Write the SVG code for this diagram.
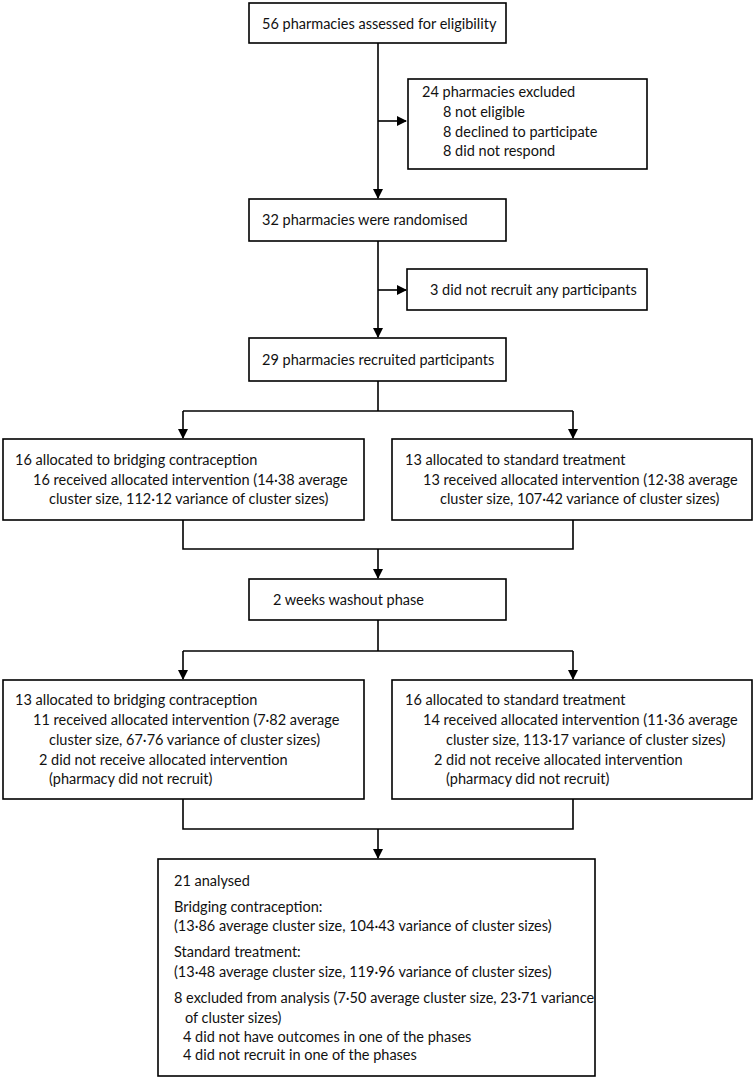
<svg xmlns="http://www.w3.org/2000/svg" width="755" height="1080" viewBox="0 0 755 1080">
<defs>
<marker id="ah" markerWidth="10" markerHeight="10" refX="9" refY="5" orient="auto" markerUnits="userSpaceOnUse">
<path d="M0,0 L10,5 L0,10 Z" fill="#000"/>
</marker>
<style>
.box{fill:#fff;stroke:#000;stroke-width:1.6}
.t{font-family:Lato,"Liberation Sans",sans-serif;font-size:14.5px;fill:#111}
.ln{fill:none;stroke:#000;stroke-width:1.6}
</style>
</defs>
<rect width="755" height="1080" fill="#fff"/>
<g id="connectors">
<path class="ln" d="M378,43 V198" marker-end="url(#ah)"/>
<path class="ln" d="M378,121 H406" marker-end="url(#ah)"/>
<path class="ln" d="M378,241 V337" marker-end="url(#ah)"/>
<path class="ln" d="M378,290 H406" marker-end="url(#ah)"/>
<path class="ln" d="M378,381 V411"/>
<path class="ln" d="M183,411 H573"/>
<path class="ln" d="M183,411 V438" marker-end="url(#ah)"/>
<path class="ln" d="M573,411 V438" marker-end="url(#ah)"/>
<path class="ln" d="M183,520 V549 H573 V520"/>
<path class="ln" d="M378,549 V578" marker-end="url(#ah)"/>
<path class="ln" d="M378,620 V651"/>
<path class="ln" d="M183,651 H573"/>
<path class="ln" d="M183,651 V679" marker-end="url(#ah)"/>
<path class="ln" d="M573,651 V679" marker-end="url(#ah)"/>
<path class="ln" d="M183,799 V829 H573 V799"/>
<path class="ln" d="M378,829 V858" marker-end="url(#ah)"/>
</g>
<g id="n1">
<rect class="box" x="249" y="3" width="257" height="40"/>
<text class="t" x="262" y="29">56 pharmacies assessed for eligibility</text>
</g>
<g id="n2">
<rect class="box" x="408" y="79" width="239" height="90"/>
<text class="t" x="422" y="97">24 pharmacies excluded</text>
<text class="t" x="443" y="117">8 not eligible</text>
<text class="t" x="443" y="137">8 declined to participate</text>
<text class="t" x="443" y="156">8 did not respond</text>
</g>
<g id="n3">
<rect class="box" x="249" y="199" width="257" height="42"/>
<text class="t" x="262" y="225">32 pharmacies were randomised</text>
</g>
<g id="n4">
<rect class="box" x="407" y="269" width="240" height="41"/>
<text class="t" x="430" y="295">3 did not recruit any participants</text>
</g>
<g id="n5">
<rect class="box" x="249" y="338" width="257" height="43"/>
<text class="t" x="262" y="365">29 pharmacies recruited participants</text>
</g>
<g id="n6">
<rect class="box" x="3" y="439" width="361" height="81"/>
<text class="t" x="15" y="465">16 allocated to bridging contraception</text>
<text class="t" x="33" y="485">16 received allocated intervention (14·38 average</text>
<text class="t" x="49" y="504">cluster size, 112·12 variance of cluster sizes)</text>
</g>
<g id="n7">
<rect class="box" x="392" y="439" width="360" height="81"/>
<text class="t" x="405" y="465">13 allocated to standard treatment</text>
<text class="t" x="423" y="485">13 received allocated intervention (12·38 average</text>
<text class="t" x="440" y="504">cluster size, 107·42 variance of  cluster sizes)</text>
</g>
<g id="n8">
<rect class="box" x="249" y="579" width="257" height="41"/>
<text class="t" x="273" y="605">2 weeks washout phase</text>
</g>
<g id="n9">
<rect class="box" x="3" y="680" width="361" height="119"/>
<text class="t" x="15" y="705">13 allocated to bridging contraception</text>
<text class="t" x="33" y="725">11 received allocated intervention (7·82 average</text>
<text class="t" x="49" y="745">cluster size, 67·76 variance of cluster sizes)</text>
<text class="t" x="39" y="765">2 did not receive allocated intervention</text>
<text class="t" x="49" y="784">(pharmacy did not recruit)</text>
</g>
<g id="n10">
<rect class="box" x="392" y="680" width="360" height="119"/>
<text class="t" x="405" y="705">16 allocated to standard treatment</text>
<text class="t" x="423" y="725">14 received allocated intervention (11·36 average</text>
<text class="t" x="446" y="745">cluster size, 113·17 variance of cluster sizes)</text>
<text class="t" x="434" y="765">2 did not receive allocated intervention</text>
<text class="t" x="446" y="784">(pharmacy did not recruit)</text>
</g>
<g id="n11">
<rect class="box" x="158" y="859" width="437" height="217"/>
<text class="t" x="174" y="886">21 analysed</text>
<text class="t" x="174" y="912">Bridging contraception:</text>
<text class="t" x="174" y="931">(13·86 average cluster size, 104·43 variance of cluster sizes)</text>
<text class="t" x="174" y="957">Standard treatment:</text>
<text class="t" x="174" y="977">(13·48 average cluster size, 119·96 variance of cluster sizes)</text>
<text class="t" x="174" y="1003">8 excluded from analysis (7·50 average cluster size, 23·71 variance</text>
<text class="t" x="185" y="1023">of cluster sizes)</text>
<text class="t" x="183" y="1042">4 did not have outcomes in one of the phases</text>
<text class="t" x="183" y="1060">4 did not recruit in one of the phases</text>
</g>
</svg>
